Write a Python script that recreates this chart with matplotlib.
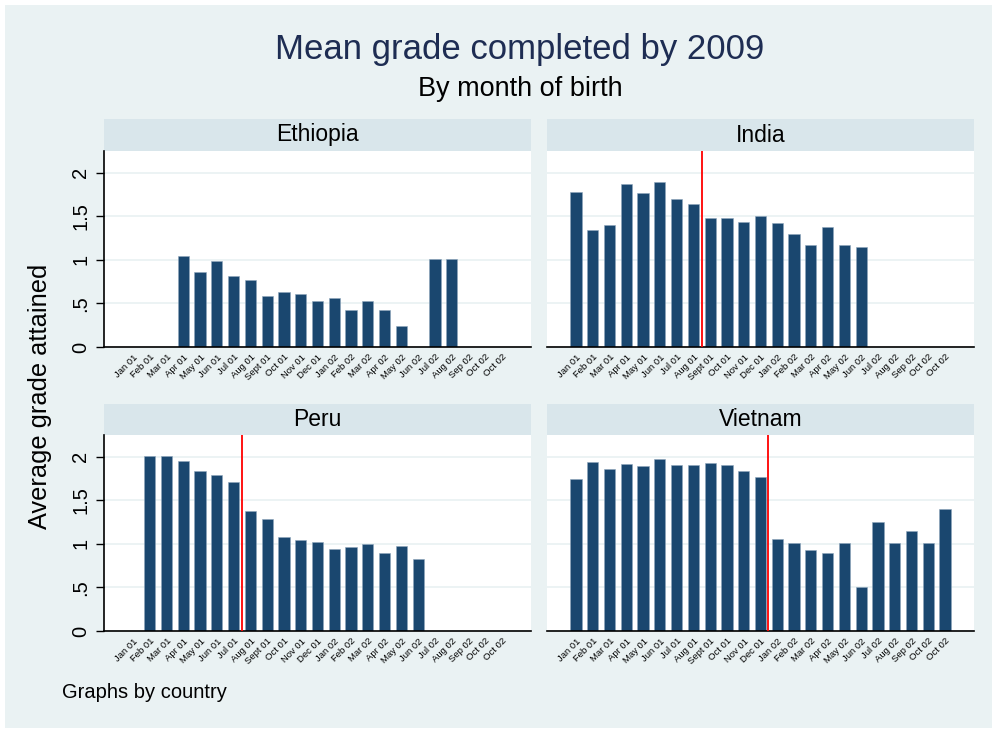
import numpy as np
import matplotlib
matplotlib.use('Agg')
import matplotlib.pyplot as plt

plt.rcParams['font.family'] = ['Liberation Sans', 'DejaVu Sans']

months = ['Jan 01', 'Feb 01', 'Mar 01', 'Apr 01', 'May 01', 'Jun 01', 'Jul 01', 'Aug 01',
          'Sept 01', 'Oct 01', 'Nov 01', 'Dec 01', 'Jan 02', 'Feb 02', 'Mar 02', 'Apr 02',
          'May 02', 'Jun 02', 'Jul 02', 'Aug 02', 'Sep 02', 'Oct 02', 'Oct 02']

nan = np.nan
ethiopia = [nan, nan, nan, 1.05, 0.86, 0.99, 0.81, 0.77, 0.585, 0.63, 0.61, 0.53,
            0.56, 0.42, 0.53, 0.43, 0.24, nan, 1.01, 1.01, nan, nan, nan]
india = [1.785, 1.345, 1.40, 1.87, 1.765, 1.89, 1.70, 1.645, 1.485, 1.48, 1.44, 1.505,
         1.42, 1.30, 1.175, 1.38, 1.175, 1.145, nan, nan, nan, nan, nan]
peru = [nan, 2.01, 2.01, 1.95, 1.84, 1.79, 1.715, 1.38, 1.28, 1.08, 1.04, 1.02,
        0.945, 0.965, 0.995, 0.90, 0.98, 0.83, nan, nan, nan, nan, nan]
vietnam = [1.74, 1.945, 1.86, 1.92, 1.89, 1.975, 1.905, 1.905, 1.925, 1.91, 1.84, 1.77,
           1.06, 1.005, 0.925, 0.895, 1.005, 0.50, 1.255, 1.005, 1.145, 1.005, 1.405]

countries = ['Ethiopia', 'India', 'Peru', 'Vietnam']
values = [ethiopia, india, peru, vietnam]
cutoffs = [None, 7.5, 6.48, 11.46]

BG = '#EAF2F3'
STRIP = '#D9E6EB'
BAR = '#1A476F'

W, H = 997, 733
fig = plt.figure(figsize=(W / 100, H / 100), dpi=100, facecolor='white')

# outer graph region
bg = fig.add_axes([5 / W, 5 / H, 987 / W, 723 / H])
bg.set_facecolor(BG)
bg.set_xticks([])
bg.set_yticks([])
for s in bg.spines.values():
    s.set_visible(False)

fig.text(520 / W, 1 - 49 / H, 'Mean grade completed by 2009', ha='center', va='center',
         fontsize=25, color='#1E2D53')
fig.text(520 / W, 1 - 89 / H, 'By month of birth', ha='center', va='center',
         fontsize=19.5, color='black')
fig.text(40 / W, 1 - 396 / H, 'Average grade attained', ha='center', va='center',
         rotation=90, fontsize=18.3)
fig.text(62 / W, 1 - 692 / H, 'Graphs by country', ha='left', va='center', fontsize=14.5)

cols = [(104, 531), (547, 974)]
rows = [(119, 151, 347), (404, 435, 631)]

x = np.arange(len(months))
for k, (name, vals, cut) in enumerate(zip(countries, values, cutoffs)):
    r, c = divmod(k, 2)
    x0, x1 = cols[c]
    st, pt, pb = rows[r]

    sax = fig.add_axes([x0 / W, 1 - pt / H, (x1 - x0) / W, (pt - st) / H])
    sax.set_facecolor(STRIP)
    sax.set_xticks([])
    sax.set_yticks([])
    for s in sax.spines.values():
        s.set_visible(False)
    sax.text(0.5, 0.5, name, ha='center', va='center', fontsize=16.5,
             transform=sax.transAxes)

    ax = fig.add_axes([x0 / W, 1 - pb / H, (x1 - x0) / W, (pb - pt) / H])
    ax.set_facecolor('white')
    ax.bar(x, vals, width=0.67, color=BAR, edgecolor='#8FA6BC', linewidth=0.4, zorder=2)
    if cut is not None:
        ax.axvline(cut, color='red', linewidth=1.3, zorder=3)
    ax.set_xlim(-1.73, 23.73)
    ax.set_ylim(0, 2.25)
    ax.set_yticks([0, 0.5, 1, 1.5, 2])
    ax.grid(axis='y', color=BG, linewidth=1.3, zorder=0)
    ax.set_xticks(x)
    ax.set_xticklabels(months, rotation=45, ha='right', va='top',
                       rotation_mode='anchor', fontsize=6.8)
    ax.tick_params(axis='x', length=0, pad=4)
    for s in ['top', 'right']:
        ax.spines[s].set_visible(False)
    ax.spines['bottom'].set_linewidth(1.2)
    if c == 0:
        ax.set_yticklabels(['0', '.5', '1', '1.5', '2'], rotation=90, va='center',
                           fontsize=14.5)
        ax.tick_params(axis='y', length=6, width=1, pad=4)
        ax.spines['left'].set_linewidth(1.2)
    else:
        ax.set_yticklabels([])
        ax.tick_params(axis='y', length=0)
        ax.spines['left'].set_visible(False)

plt.savefig('out.png', dpi=100, facecolor='white')
